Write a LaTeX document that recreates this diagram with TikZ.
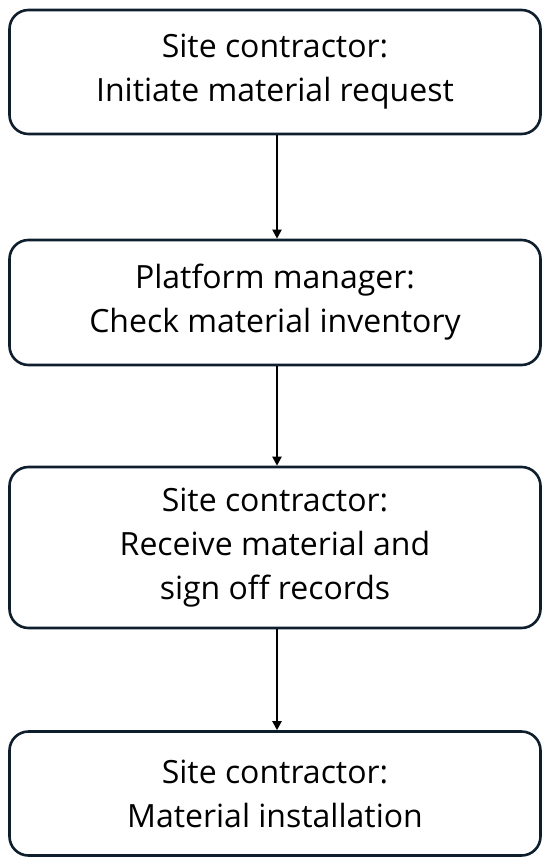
\documentclass[tikz,border=0pt]{standalone}
\usepackage{fontspec}
\setmainfont{Open Sans}[Ligatures=NoCommon]
\usetikzlibrary{arrows.meta}
\definecolor{boxline}{RGB}{14,30,44}

\begin{document}
\begin{tikzpicture}[
  x=1pt, y=-1pt,
  font=\fontsize{32}{44}\selectfont,
  stepbox/.style={draw=boxline, line width=2.6pt, rounded corners=19pt, align=center, minimum width=531pt, fill=white, inner sep=0pt},
  arrow/.style={-{Triangle[length=9pt,width=9pt]}, line width=2pt, draw=black}
]
\useasboundingbox (0,0) rectangle (550,866);

\node[stepbox, minimum height=124pt] (request) at (275,72)
  {Site contractor:\\Initiate material request};
\node[stepbox, minimum height=125pt] (inventory) at (275,302.5)
  {Platform manager:\\Check material inventory};
\node[stepbox, minimum height=161pt] (receive) at (275,547.5)
  {Site contractor:\\Receive material and\\sign off records};
\node[stepbox, minimum height=124pt] (install) at (275,793.5)
  {Site contractor:\\Material installation};

\draw[arrow] ([xshift=2pt]request.south) -- ([xshift=2pt]inventory.north);
\draw[arrow] ([xshift=2pt]inventory.south) -- ([xshift=2pt]receive.north);
\draw[arrow] ([xshift=2pt]receive.south) -- ([xshift=2pt]install.north);

\end{tikzpicture}
\end{document}
